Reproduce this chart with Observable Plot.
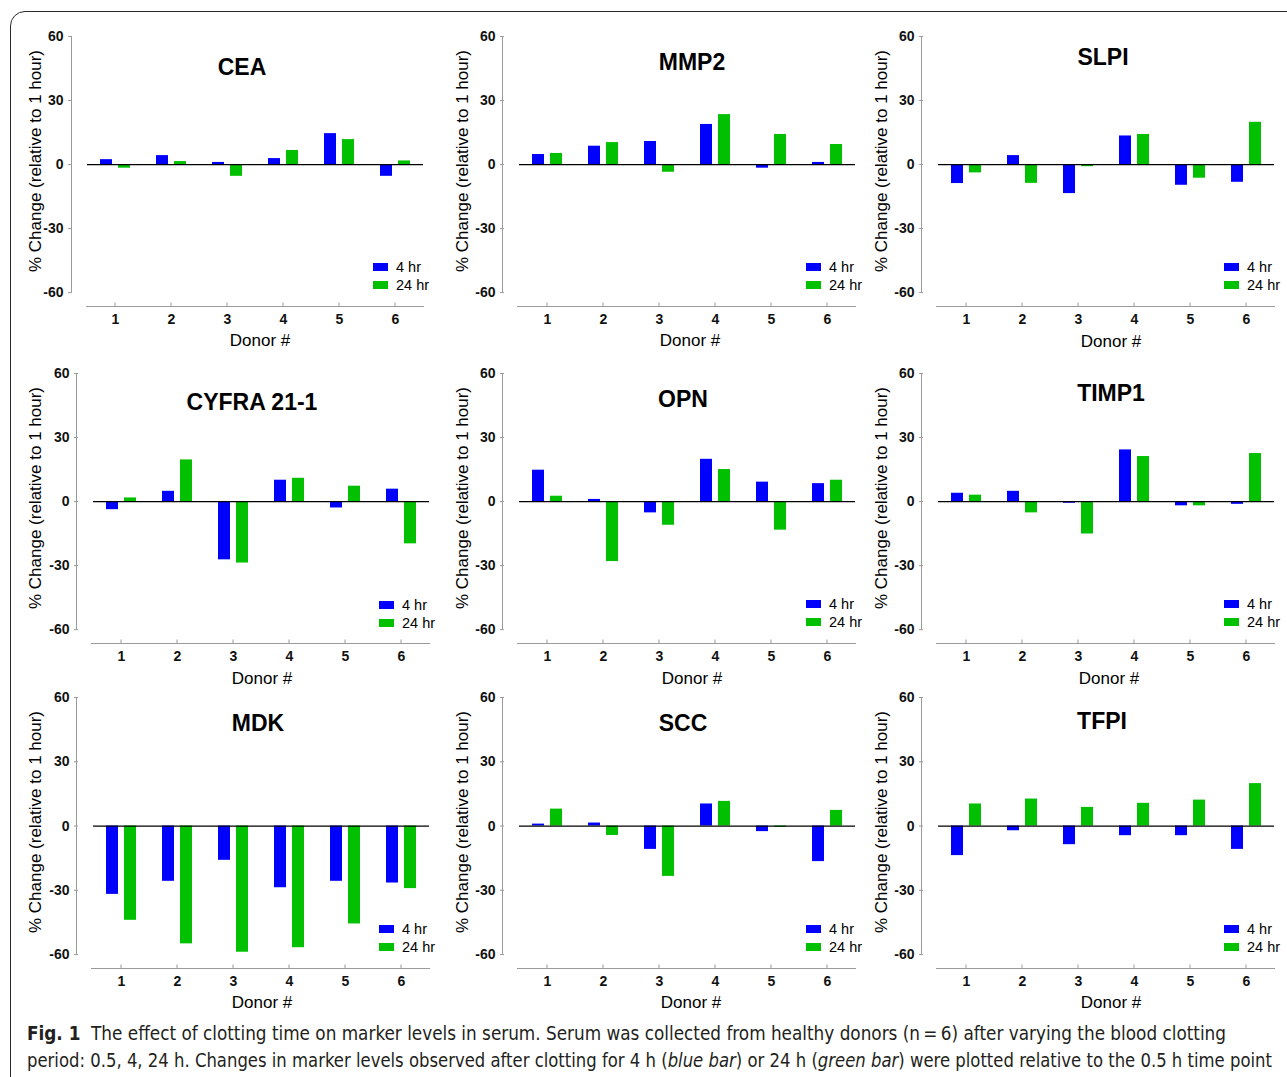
<!DOCTYPE html>
<html><head><meta charset="utf-8">
<script src="https://cdn.jsdelivr.net/npm/d3@7"></script>
<script src="https://cdn.jsdelivr.net/npm/@observablehq/plot@0.6"></script>
<style>
body{margin:0;background:#fff;}
#root{position:relative;width:1287px;height:1077px;overflow:hidden;font-family:"Liberation Sans",Arial,Helvetica,sans-serif;color:#000;background:#fff;}
.abs{position:absolute;white-space:nowrap;line-height:1;}
.title{font-size:23px;font-weight:bold;transform:translate(-50%,-50%);}
.ylab{font-size:17px;transform:translate(-50%,-50%) rotate(-90deg);}
.xlab{font-size:17px;transform:translate(-50%,-50%);}
.legtxt{font-size:14.5px;transform:translateY(-50%);}
.sw{position:absolute;width:15px;height:8px;transform:translateY(-50%);}
.border{position:absolute;left:10px;top:11px;width:1400px;height:1200px;border:1px solid #2a2a2a;border-radius:15px;box-sizing:border-box;}
.cap{position:absolute;left:27px;white-space:nowrap;font-family:"Liberation Sans Narrow","DejaVu Sans Condensed","Open Sans",sans-serif;font-size:20px;line-height:1;color:#231f20;transform-origin:0 50%;}
</style></head><body><div id="root"><div class="border"></div></div>
<script>
// ---------- data ----------
const donors = [1, 2, 3, 4, 5, 6];
const seriesNames = ["4 hr", "24 hr"];
const seriesColors = ["#0000ff", "#00c000"];
const yTicks = [-60, -30, 0, 30, 60];
const markers = ["CEA", "MMP2", "SLPI", "CYFRA 21-1", "OPN", "TIMP1", "MDK", "SCC", "TFPI"];

const cea4 = [2.3, 4.2, 1.0, 2.8, 14.5, -5.5];
const cea24 = [-1.7, 1.4, -5.5, 6.6, 11.7, 1.7];
const mmp2_4 = [4.7, 8.6, 10.8, 18.8, -1.7, 1.0];
const mmp2_24 = [5.2, 10.3, -3.6, 23.4, 14.1, 9.4];
const slpi4 = [-8.9, 4.2, -13.6, 13.4, -9.7, -8.3];
const slpi24 = [-3.9, -8.8, -1.0, 14.1, -6.4, 19.8];
const cyfra4 = [-3.8, 4.8, -27.3, 10.0, -3.0, 5.8];
const cyfra24 = [1.7, 19.5, -28.8, 10.9, 7.2, -19.8];
const opn4 = [14.7, 1.0, -5.3, 19.8, 9.1, 8.4];
const opn24 = [2.5, -28.1, -11.1, 15.0, -13.4, 10.0];
const timp1_4 = [3.9, 4.8, -0.8, 24.2, -2.0, -1.3];
const timp1_24 = [3.0, -5.3, -15.2, 21.1, -2.0, 22.5];
const mdk4 = [-31.9, -25.8, -16.0, -28.8, -25.8, -26.6];
const mdk24 = [-44.0, -55.0, -58.9, -56.8, -45.7, -29.2];
const scc4 = [0.9, 1.4, -10.9, 10.3, -2.6, -16.6];
const scc24 = [7.9, -4.4, -23.5, 11.5, -0.6, 7.3];
const tfpi4 = [-13.8, -2.2, -8.7, -4.5, -4.5, -10.9];
const tfpi24 = [10.3, 12.6, 8.7, 10.6, 12.1, 19.8];

const values4 = [cea4, mmp2_4, slpi4, cyfra4, opn4, timp1_4, mdk4, scc4, tfpi4];
const values24 = [cea24, mmp2_24, slpi24, cyfra24, opn24, timp1_24, mdk24, scc24, tfpi24];

const axisLabelY = "% Change (relative to 1 hour)";
const axisLabelX = "Donor #";
const captionBold = "Fig. 1";
const captionLine1 = "The effect of clotting time on marker levels in serum. Serum was collected from healthy donors (n\u2009=\u20096) after varying the blood clotting";
const captionLine2 = "period: 0.5, 4, 24 h. Changes in marker levels observed after clotting for 4 h (<i>blue bar</i>) or 24 h (<i>green bar</i>) were plotted relative to the 0.5 h time point";

// ---------- layout (page pixels) ----------
const layout = [
  {FL: 86,  FR: 424,  T: 36,  B: 306, lx: 35,  tx: 242,  ty: 67,  gx: 373,  gy: 267, dx: 260,  dy: 340},
  {FL: 517, FR: 856,  T: 36,  B: 306, lx: 462, tx: 692,  ty: 62,  gx: 806,  gy: 267, dx: 690,  dy: 340},
  {FL: 936, FR: 1275, T: 36,  B: 306, lx: 881, tx: 1103, ty: 57,  gx: 1224, gy: 267, dx: 1111, dy: 341},
  {FL: 91,  FR: 430,  T: 373, B: 643, lx: 35,  tx: 252,  ty: 402, gx: 379,  gy: 605, dx: 262,  dy: 678},
  {FL: 517, FR: 856,  T: 373, B: 643, lx: 462, tx: 683,  ty: 399, gx: 806,  gy: 604, dx: 692,  dy: 678},
  {FL: 936, FR: 1275, T: 373, B: 643, lx: 881, tx: 1111, ty: 393, gx: 1224, gy: 604, dx: 1109, dy: 678},
  {FL: 91,  FR: 430,  T: 697, B: 968, lx: 35,  tx: 258,  ty: 723, gx: 379,  gy: 929, dx: 262,  dy: 1002},
  {FL: 517, FR: 856,  T: 697, B: 968, lx: 462, tx: 683,  ty: 723, gx: 806,  gy: 929, dx: 691,  dy: 1002},
  {FL: 936, FR: 1275, T: 697, B: 968, lx: 881, tx: 1102, ty: 721, gx: 1224, gy: 929, dx: 1111, dy: 1002}
];

const root = document.getElementById("root");
function addDiv(cls, html, x, y) {
  const d = document.createElement("div");
  d.className = "abs " + cls;
  d.innerHTML = html;
  d.style.left = x + "px";
  d.style.top = y + "px";
  root.appendChild(d);
  return d;
}

const ML = 90, MR = 10, MT = 30, MB = 40;
const axisGap = 15;
const gray = "#9a9a9a";
const fmt = d => String(d);

markers.forEach((name, k) => {
  const L = layout[k];
  const rows = donors.flatMap((d, i) => [
    {donor: d, series: seriesNames[0], value: values4[k][i]},
    {donor: d, series: seriesNames[1], value: values24[k][i]}
  ]);
  const W = L.FR - L.FL + ML + MR;
  const H = L.B - L.T + MT + MB;
  const svg = Plot.plot({
    width: W, height: H,
    marginLeft: ML, marginRight: MR, marginTop: MT, marginBottom: MB,
    style: {fontFamily: '"Liberation Sans", Arial, sans-serif', fontSize: "14px", overflow: "visible", background: "transparent"},
    fx: {domain: donors, padding: 0, label: null},
    x: {domain: seriesNames, axis: null, paddingInner: 0.316, paddingOuter: 0.64},
    y: {domain: [-66.5, 60], label: null},
    color: {domain: seriesNames, range: seriesColors},
    marks: [
      Plot.barY(rows, {fx: "donor", x: "series", y: "value", fill: "series"}),
      Plot.ruleY([0], {stroke: "#000", strokeWidth: 1.3}),
      Plot.axisY({ticks: yTicks, tickFormat: fmt, tickSize: 4, tickPadding: 5, dx: -axisGap, stroke: gray, fill: "#111",
                  fontSize: 14, fontWeight: "bold", label: null}),
      Plot.axisFx({anchor: "bottom", tickFormat: fmt, tickSize: 0, tickPadding: 8, fill: "#111",
                   fontSize: 14, fontWeight: "bold", label: null})
    ]
  });
  svg.style.position = "absolute";
  svg.style.left = (L.FL - ML) + "px";
  svg.style.top = (L.T - MT) + "px";
  root.appendChild(svg);

  d3.select(svg).selectAll('g[aria-label$="tick label"]')
    .attr("font-size", 14).attr("font-weight", "bold");

  // axis lines drawn from the plot's own scales
  const ys = svg.scale("y");
  const fxs = svg.scale("fx");
  const g = d3.select(svg).append("g").attr("stroke", gray).attr("stroke-width", 1);
  const ax = ML - axisGap + 0.5;
  g.append("line").attr("x1", ax).attr("x2", ax).attr("y1", ys.apply(60)).attr("y2", ys.apply(-60));
  const by = H - MB + 0.5;
  g.append("line").attr("x1", ML).attr("x2", W - MR).attr("y1", by).attr("y2", by);
  donors.forEach(d => {
    const cx = fxs.apply(d) + fxs.bandwidth / 2;
    g.append("line").attr("x1", cx).attr("x2", cx).attr("y1", by - 4).attr("y2", by);
  });

  // texts
  addDiv("title", name, L.tx, L.ty);
  addDiv("ylab", axisLabelY, L.lx, L.T + 125);
  addDiv("xlab", axisLabelX, L.dx, L.dy);
  seriesNames.forEach((s, j) => {
    const yy = L.gy + j * 17.5;
    const sw = document.createElement("div");
    sw.className = "sw";
    sw.style.left = L.gx + "px";
    sw.style.top = yy + "px";
    sw.style.background = seriesColors[j];
    root.appendChild(sw);
    addDiv("legtxt", s, L.gx + 23, yy);
  });
});

// caption
const c1 = addDiv("cap", "<b>" + captionBold + "</b>&nbsp; " + captionLine1, 27, 1023);
const c2 = addDiv("cap", captionLine2, 27, 1050);
[[c1, 1199], [c2, 1245]].forEach(([el, target]) => {
  const w = el.getBoundingClientRect().width;
  if (w > 0) el.style.transform = "scaleX(" + (target / w) + ")";
});
</script></body></html>
